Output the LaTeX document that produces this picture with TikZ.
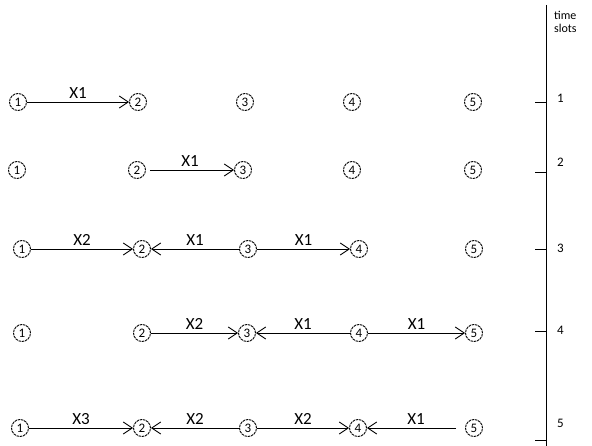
\documentclass[tikz,border=0pt]{standalone}
\usepackage{fontspec}
\setmainfont{Carlito}
\usetikzlibrary{arrows.meta}
\begin{document}
\begin{tikzpicture}[x=1pt,y=-1pt,
  cnode/.style={circle,draw,line width=0.9pt,dash pattern=on 2.5pt off 0.8pt,inner sep=0pt,minimum size=17pt,font=\fontsize{13}{13}\selectfont},
  flow/.style={line width=0.9pt,-{Straight Barb[length=9pt,width=12pt,line width=0.9pt]}},
  lab/.style={midway,above=3pt,inner sep=0pt,font=\fontsize{17}{17}\selectfont},
  tick/.style={line width=1pt},
  slot/.style={anchor=west,inner sep=0pt,font=\fontsize{13}{13}\selectfont}]
\useasboundingbox (0,0) rectangle (592,446);
% row 1
\node[cnode] (a1) at (18,102) {1};
\node[cnode] (a2) at (138,102) {2};
\node[cnode] (a3) at (245,102) {3};
\node[cnode] (a4) at (352,102) {4};
\node[cnode] (a5) at (473,102) {5};
% row 2
\node[cnode] (b1) at (17,170) {1};
\node[cnode] (b2) at (137,170) {2};
\node[cnode] (b3) at (243,170) {3};
\node[cnode] (b4) at (352,170) {4};
\node[cnode] (b5) at (473,170) {5};
% row 3
\node[cnode] (c1) at (22,249) {1};
\node[cnode] (c2) at (142,249) {2};
\node[cnode] (c3) at (248,249) {3};
\node[cnode] (c4) at (359,249) {4};
\node[cnode] (c5) at (474,249) {5};
% row 4
\node[cnode] (d1) at (22,333) {1};
\node[cnode] (d2) at (142,333) {2};
\node[cnode] (d3) at (247,333) {3};
\node[cnode] (d4) at (359,333) {4};
\node[cnode] (d5) at (474,333) {5};
% row 5
\node[cnode] (e1) at (20,428) {1};
\node[cnode] (e2) at (142,428) {2};
\node[cnode] (e3) at (248,428) {3};
\node[cnode] (e4) at (358,428) {4};
\node[cnode] (e5) at (474,428) {5};
% arrows
\draw[flow] (a1) -- node[lab] {X1} (a2);
\draw[flow,shorten <=4pt] (b2) -- node[lab] {X1} (b3);
\draw[flow] (c1) -- node[lab] {X2} (c2);
\draw[flow] (c3) -- node[lab] {X1} (c2);
\draw[flow] (c3) -- node[lab] {X1} (c4);
\draw[flow] (d2) -- node[lab] {X2} (d3);
\draw[flow] (d4) -- node[lab] {X1} (d3);
\draw[flow] (d4) -- node[lab] {X1} (d5);
\draw[flow] (e1) -- node[lab] {X3} (e2);
\draw[flow] (e3) -- node[lab] {X2} (e2);
\draw[flow] (e3) -- node[lab] {X2} (e4);
\draw[flow,shorten <=9pt] (e5) -- node[lab] {X1} (e4);
% time axis
\coordinate (top) at (546,5);
\coordinate (bot) at (546,446);
\draw[tick] (top) -- (bot);
\coordinate (t1) at (546,103);
\coordinate (t2) at (546,173);
\coordinate (t3) at (546,250);
\coordinate (t4) at (546,332);
\coordinate (t5) at (546,440);
\foreach \t in {t1,t2,t3,t4,t5} \draw[tick] (\t) -- ++(-11,0);
\node[slot,font=\fontsize{12}{12}\selectfont] (time) at (554,15) {time};
\node[slot,font=\fontsize{12}{12}\selectfont] (slots) at (554,28) {slots};
\node[slot] (s1) at (557,98) {1};
\node[slot] (s2) at (557,162) {2};
\node[slot] (s3) at (557,248) {3};
\node[slot] (s4) at (557,330) {4};
\node[slot] (s5) at (557,423) {5};
\end{tikzpicture}
\end{document}
